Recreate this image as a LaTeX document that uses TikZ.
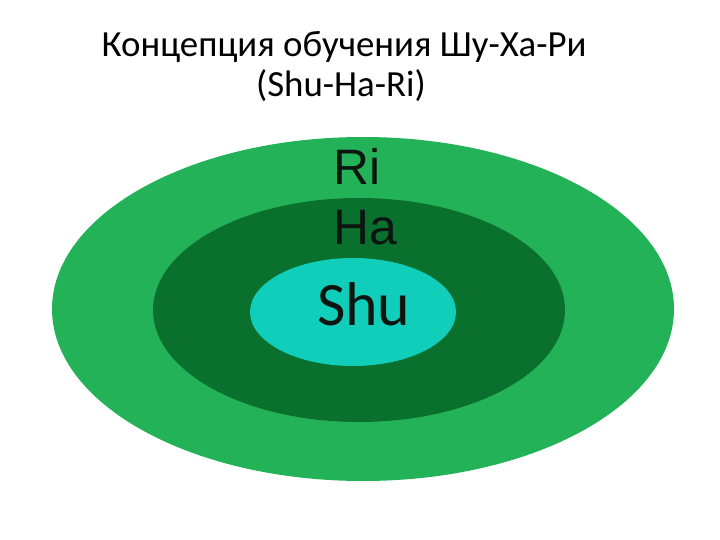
\documentclass[tikz,border=0pt]{standalone}
\usepackage{fontspec}
\setmainfont{Carlito}
\newfontfamily\lblfont{Liberation Sans}
\usepackage{tikz}
\definecolor{rigreen}{RGB}{35,178,88}
\definecolor{hagreen}{RGB}{10,112,45}
\definecolor{shucyan}{RGB}{16,206,186}
\definecolor{txtdark}{RGB}{12,22,16}

\begin{document}
\begin{tikzpicture}[x=1bp,y=-1bp,
  level/.style={text=txtdark,inner sep=0pt,anchor=base west},
  heading/.style={inner sep=0pt,anchor=base,font=\fontsize{37}{40}\selectfont}]
\useasboundingbox (0,0) rectangle (720,540);
\fill[rigreen] (363,309) ellipse [x radius=311,y radius=172];
\fill[hagreen] (359,310) ellipse [x radius=206,y radius=112];
\fill[shucyan] (353,312) ellipse [x radius=103,y radius=54];
\node[heading] (title) at (344,57) {Концепция обучения Шу-Ха-Ри};
\node[heading] (subtitle) at (341,97) {(Shu-Ha-Ri)};
\node[level,font=\lblfont\fontsize{50}{50}\selectfont] (ri) at (333,185) {Ri};
\node[level,font=\lblfont\fontsize{50}{50}\selectfont] (ha) at (333,245) {Ha};
\node[level,font=\fontsize{62}{62}\selectfont] (shu) at (317,325) {Shu};
\end{tikzpicture}
\end{document}
